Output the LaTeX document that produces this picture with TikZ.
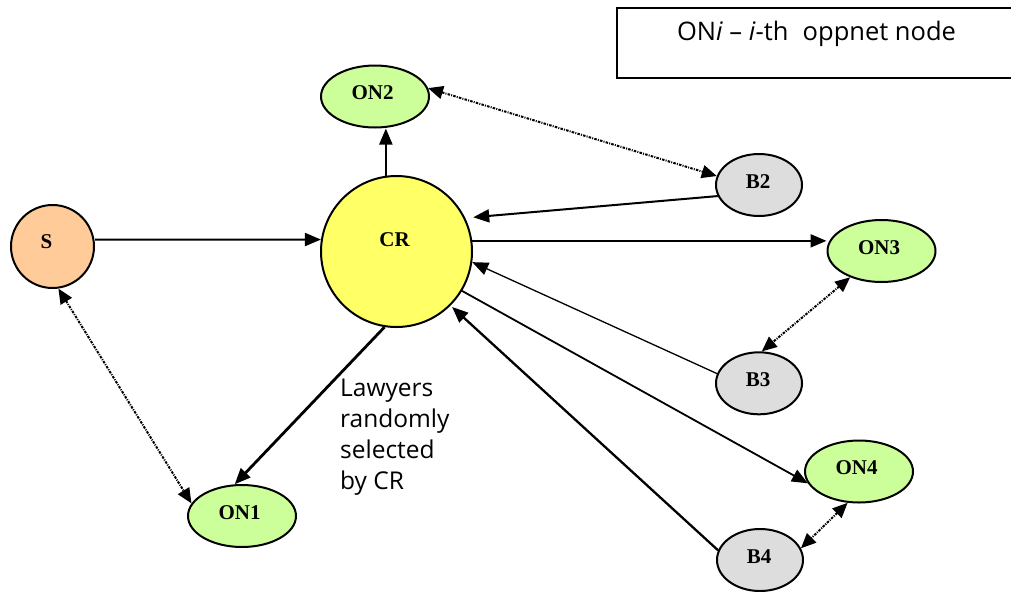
\documentclass[tikz,border=0pt]{standalone}
\usepackage{fontspec}
\setmainfont{Liberation Serif}
\newfontfamily\oppsans{Open Sans}
\usetikzlibrary{arrows.meta,shapes.geometric}
\definecolor{sFill}{HTML}{FFCC99}
\definecolor{crFill}{HTML}{FFFF66}
\definecolor{onFill}{HTML}{CCFF99}
\definecolor{bFill}{HTML}{DDDDDD}
\tikzset{
  labfont/.style={font=\fontsize{21}{25}\selectfont\bfseries},
  nodebase/.style={draw=black, line width=2pt, inner sep=0pt, labfont},
  circnode/.style={nodebase, circle},
  onnode/.style={nodebase, ellipse, fill=onFill, minimum width=108pt, minimum height=62pt, text depth=7pt, execute at end node={\kern5pt}},
  bnode/.style={nodebase, ellipse, fill=bFill, minimum width=86pt, minimum height=62pt, text depth=7pt, execute at end node={\kern2pt}},
  arr/.style={line width=2pt, -{Triangle[length=16pt,width=13pt]}},
  dotarr/.style={line width=2pt, dash pattern=on 2.5pt off 1.2pt on 1pt off 1.2pt,
     {Triangle[length=15pt,width=13pt]}-{Triangle[length=15pt,width=13pt]}},
  sanstext/.style={font=\oppsans\fontsize{24.5}{31}\selectfont, inner sep=0pt}
}
\begin{document}
\begin{tikzpicture}[x=1pt,y=-1pt]
\useasboundingbox (0,0) rectangle (1011,592);
\clip (0,0) rectangle (1011,592);
% legend
\draw[line width=2pt] (1020,8) -- (617,8) -- (617,78) -- (1020,78);
\node[sanstext, font=\oppsans\fontsize{25.5}{31}\selectfont, anchor=base] (legend) at (816.5,40.7) {ON\textit{i} – \textit{i}-th\hspace{0.3em} oppnet node};
% nodes
\node[circnode, fill=sFill, minimum size=83pt, label={[labfont, xshift=-6pt, yshift=4.5pt]center:S}] (S) at (52.5,246.5) {};
\node[circnode, fill=crFill, minimum size=151pt, label={[labfont, xshift=-2pt, yshift=11.5pt]center:CR}] (CR) at (396.5,251.5) {};
\node[onnode] (ON2) at (375,96.5) {ON2};
\node[bnode] (B2) at (759,185) {B2};
\node[onnode] (ON3) at (881.5,251) {ON3};
\node[bnode] (B3) at (759,383.3) {B3};
\node[onnode] (ON4) at (859,471.5) {ON4};
\node[bnode] (B4) at (760,560) {B4};
\node[onnode] (ON1) at (242,516) {ON1};
% text
\node[sanstext, anchor=north west, align=left] (lawyers) at (340,378.5) {Lawyers\\randomly\\selected\\by CR};
% connectors
\draw[arr] ([yshift=7pt]S.east) -- (CR.171.4);
\draw[arr] (CR.98) -- (CR.98 |- ON2.south);
\draw[arr, shorten >=8pt] (B2.195) -- (CR.26);
\draw[arr] (CR.8.6) -- (CR.8.6 -| ON3.west);
\draw[arr, line width=1.3pt] (B3.167) -- (CR.-8.5);
\draw[arr, line width=1.8pt] (CR.-31.7) -- (ON4.193);
\draw[arr, line width=2.3pt, shorten >=2pt] (B4.167) -- (CR.-45.8);
\draw[arr, line width=2.8pt] (CR.-99.4) -- (ON1.103);
\draw[dotarr] (ON2.9) -- (B2.168);
\draw[dotarr] (S.-82) -- (ON1.166);
\draw[dotarr] (ON3.220) -- (B3.85);
\draw[dotarr] (ON4.250) -- (B4.16);
\end{tikzpicture}
\end{document}
